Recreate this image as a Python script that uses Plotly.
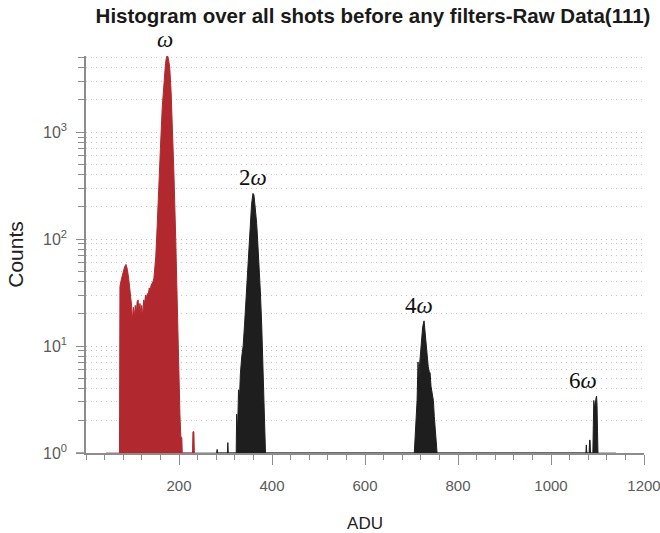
import plotly.graph_objects as go
import numpy as np

# ---- data (ADU bin, counts) ----
red_adu = [72, 73, 76, 80, 83, 86, 89, 92, 95, 98, 100, 102, 104, 106, 108, 110, 112, 114,
           116, 118, 120, 122, 124, 126, 128, 130, 132, 134, 136, 138, 140, 142, 144, 146,
           148, 150, 153, 157, 160, 164, 168, 171, 173, 175, 177, 180, 183, 186, 189, 193,
           196, 198, 200, 202, 204, 206, 207, 229, 230, 232, 233]
red_counts = [0, 36, 42, 50, 55, 58, 52, 42, 33, 24, 17.5, 23, 19, 24, 20, 26, 27, 21,
              25, 20, 24, 19, 27, 25, 30, 28, 31, 30, 35, 33, 37, 38, 40, 43,
              52, 68, 130, 287, 700, 1722, 3300, 4385, 5000, 5250, 4900, 4070, 2400, 1210, 420, 98,
              25, 11.4, 5, 2.3, 1.4, 1.4, 0, 0, 1.58, 1.58, 0]

black_adu = [281, 282, 283, 304, 305, 306,
             323, 324, 326, 328, 330, 332, 335, 338, 341, 344, 347, 350, 353, 356, 359, 361,
             363, 365, 367, 369, 372, 375, 378, 380, 382, 384, 386,
             706, 708, 710, 712, 714, 716, 717, 719, 720, 722, 724, 727, 729, 731, 733, 735,
             736, 738, 740, 742, 744, 747, 749, 751, 753, 755,
             1075, 1076, 1077, 1082, 1083, 1084, 1085, 1090, 1091, 1092, 1094, 1095, 1097,
             1098, 1099, 1100, 1101]
black_counts = [0, 1.08, 0, 0, 1.25, 0,
                0, 2.3, 1.6, 3.9, 3.2, 5.5, 8, 10, 16, 28, 45, 80, 140, 210, 267, 260,
                215, 180, 140, 100, 60, 32, 15, 7.4, 3.5, 2, 0,
                0, 1.53, 2.2, 3.1, 7.1, 5.0, 6.4, 8, 10.6, 12.5, 15.1, 17.2, 13.6, 11, 9.2, 7.5,
                6.4, 5.8, 5.6, 4.2, 3.6, 3.1, 2.2, 1.76, 1.2, 0,
                0, 1.19, 0, 0, 1.32, 1.32, 0, 0, 1.8, 3.1, 2.6, 3.0, 3.3,
                3.4, 2.8, 1.6, 0]

red_baseline = [43, 239]
black_baseline = [239, 1140]

x_tick_vals = [200, 400, 600, 800, 1000, 1200]
y_tick_vals = [1, 10, 100, 1000]
y_tick_text = ["10<sup>0</sup>", "10<sup>1</sup>", "10<sup>2</sup>", "10<sup>3</sup>"]
y_minor_vals = [m * 10 ** e for e in range(0, 4) for m in range(2, 10) if m * 10 ** e <= 5000]

peak_labels = ["<i>ω</i>", "2<i>ω</i>", "4<i>ω</i>", "6<i>ω</i>"]
peak_windows = [(150, 250), (300, 420), (650, 800), (1050, 1150)]
label_xshift = [-2, 0, -5, -14]

RED = "#B1292E"
BLACK = "#1E1E1E"
AXIS_GREY = "#8C8C8C"
TEXT_GREY = "#5A5A5A"
Y_TOP = np.log10(5150)


def outline(xs, ys):
    # histogram outline closed on the bottom of the log axis (10^0)
    px = [xs[0]] + list(xs) + [xs[-1]]
    py = [1] + [max(v, 1) for v in ys] + [1]
    return px, py


fig = go.Figure()

fig.add_trace(go.Scatter(x=red_baseline, y=[1, 1], mode="lines",
                         line=dict(color="rgba(200,80,85,0.6)", width=1.5),
                         cliponaxis=False, hoverinfo="skip", showlegend=False))
fig.add_trace(go.Scatter(x=black_baseline, y=[1, 1], mode="lines",
                         line=dict(color="rgba(60,60,60,0.7)", width=1.2),
                         cliponaxis=False, hoverinfo="skip", showlegend=False))

rx, ry = outline(red_adu, red_counts)
fig.add_trace(go.Scatter(x=rx, y=ry, mode="lines", fill="toself", fillcolor=RED,
                         line=dict(color=RED, width=1), showlegend=False))
bx, by = outline(black_adu, black_counts)
fig.add_trace(go.Scatter(x=bx, y=by, mode="lines", fill="toself", fillcolor=BLACK,
                         line=dict(color=BLACK, width=1), showlegend=False))

all_x = np.array(red_adu + black_adu, dtype=float)
all_y = np.array(red_counts + black_counts, dtype=float)
for text, (lo, hi), xs in zip(peak_labels, peak_windows, label_xshift):
    m = (all_x >= lo) & (all_x <= hi)
    i = np.argmax(np.where(m, all_y, -1))
    fig.add_annotation(x=all_x[i], y=np.log10(all_y[i]) / Y_TOP, xref="x", yref="paper",
                       text=text, showarrow=False, yanchor="bottom", yshift=1, xshift=xs,
                       font=dict(family="Liberation Serif, DejaVu Serif, serif", size=23,
                                 color="#111111"))

fig.add_shape(type="line", xref="paper", yref="paper", x0=-0.018, x1=0, y0=0, y1=0,
              line=dict(color=AXIS_GREY, width=1.5))

fig.update_layout(
    width=660, height=533,
    margin=dict(l=86, r=16, t=56, b=80),
    plot_bgcolor="white", paper_bgcolor="white",
    title=dict(text="<b>Histogram over all shots before any filters-Raw Data(111)</b>",
               x=373 / 660, xanchor="center", xref="container",
               y=1 - 16 / 533, yanchor="middle", yref="container",
               font=dict(family="Liberation Sans, Arial, sans-serif", size=20.5, color="#1a1a1a")),
    font=dict(family="Liberation Sans, Arial, sans-serif"),
)

fig.update_xaxes(
    range=[0, 1200], showgrid=False, zeroline=False, automargin=False,
    showline=True, linecolor=AXIS_GREY, linewidth=1.5,
    tickvals=x_tick_vals, ticks="outside", ticklen=10, tickcolor=AXIS_GREY, tickwidth=1.2,
    minor=dict(dtick=40, tick0=0, ticks="outside", ticklen=5, tickcolor=AXIS_GREY,
               tickwidth=1, showgrid=False),
    tickfont=dict(size=15, color=TEXT_GREY), ticklabelstandoff=8, ticklabeloverflow="allow",
    title=dict(text="ADU", font=dict(size=17, color="#222222"), standoff=24),
)

fig.update_yaxes(
    type="log", range=[0, Y_TOP], automargin=False,
    showline=True, linecolor=AXIS_GREY, linewidth=1.5, zeroline=False,
    tickvals=y_tick_vals, ticktext=y_tick_text,
    ticks="outside", ticklen=8, tickcolor=AXIS_GREY, tickwidth=1.2,
    showgrid=True, gridcolor="#BDBDBD", griddash="1px,4px", gridwidth=1,
    minor=dict(tickvals=y_minor_vals, ticks="outside", ticklen=6, tickcolor=AXIS_GREY,
               tickwidth=1, showgrid=True, gridcolor="#C4C4C4", griddash="1px,4px", gridwidth=1),
    tickfont=dict(size=16, color=TEXT_GREY), ticklabelstandoff=6, ticklabeloverflow="allow",
    title=dict(text="Counts", font=dict(size=21, color="#222222",
               family="Liberation Sans Narrow, Arial Narrow, Liberation Sans, sans-serif"),
               standoff=14),
)

fig.write_html("out.html")
